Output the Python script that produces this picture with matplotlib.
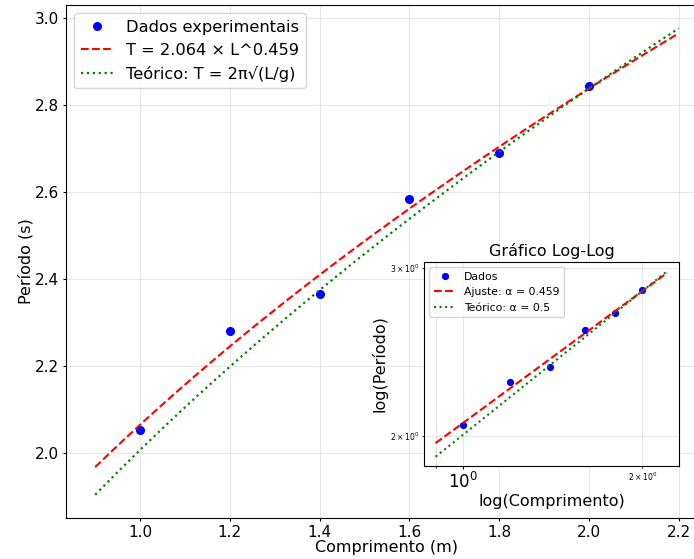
import numpy as np
import matplotlib.pyplot as plt

# dados medidos
comprimento = [1.0, 1.2, 1.4, 1.6, 1.8, 2.0]
periodo = [2.053, 2.279, 2.365, 2.584, 2.688, 2.844]

# parametros do ajuste
A = 2.064
alpha = 0.459
g = 9.81

L = np.linspace(0.9, 2.2, 200)
T_fit = A * L ** alpha
T_teo = 2 * np.pi * np.sqrt(L / g)

fig = plt.figure(figsize=(6.94, 5.59), dpi=100)
ax = fig.add_axes([0.0951, 0.0733, 0.925, 0.9177])

ax.plot(comprimento, periodo, 'o', color='blue', markersize=5.5,
        label='Dados experimentais')
ax.plot(L, T_fit, 'r--', linewidth=1.5,
        label=f'T = {A:.3f} × L^{alpha:.3f}')
ax.plot(L, T_teo, 'g:', linewidth=1.6,
        label='Teórico: T = 2π√(L/g)')
ax.set_xlabel('Comprimento (m)', fontsize=11.5, labelpad=0)
ax.set_ylabel('Período (s)', fontsize=11.5, labelpad=1)
ax.tick_params(labelsize=11, length=2.5, pad=2.5)
ax.grid(True, alpha=0.3)
ax.legend(loc='upper left', fontsize=11.7)

# grafico log-log
ins = fig.add_axes([0.611, 0.1664, 0.367, 0.365])
ins.loglog(comprimento, periodo, 'o', color='blue', markersize=4.2,
           label='Dados')
ins.loglog(L, T_fit, 'r--', linewidth=1.5,
           label=f'Ajuste: α = {alpha:.3f}')
ins.loglog(L, T_teo, 'g:', linewidth=1.5,
           label='Teórico: α = 0.5')
ins.set_title('Gráfico Log-Log', fontsize=11.5, pad=4)
ins.set_xlabel('log(Comprimento)', fontsize=11.5, labelpad=1)
ins.set_ylabel('log(Período)', fontsize=11.5, labelpad=2)
ins.tick_params(which='major', labelsize=12, length=2.5, pad=2)
ins.tick_params(which='minor', labelsize=5.5, length=1.5, pad=2)
ins.grid(True, which='both', alpha=0.3)
ins.legend(loc='upper left', fontsize=7.8)

fig.savefig('out.png', dpi=100)
